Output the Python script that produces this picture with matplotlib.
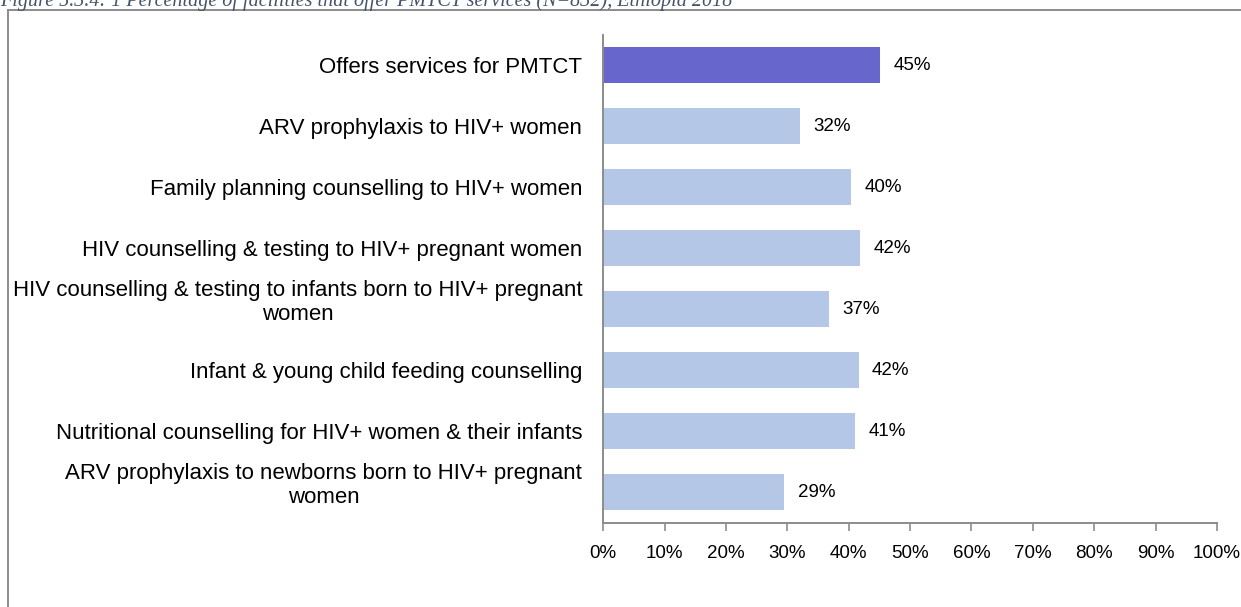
import matplotlib
matplotlib.use("Agg")
import matplotlib.pyplot as plt
import matplotlib.transforms as mtransforms
from matplotlib.lines import Line2D
from matplotlib.ticker import PercentFormatter

# data (percent)
categories = [
    "Offers services for PMTCT",
    "ARV prophylaxis to HIV+ women",
    "Family planning counselling to HIV+ women",
    "HIV counselling & testing to HIV+ pregnant women",
    "HIV counselling & testing to infants born to HIV+ pregnant\nwomen",
    "Infant & young child feeding counselling",
    "Nutritional counselling for HIV+ women & their infants",
    "ARV prophylaxis to newborns born to HIV+ pregnant\nwomen",
]
values = [45.1, 32.0, 40.4, 41.9, 36.8, 41.6, 41.0, 29.5]
value_labels = ["45%", "32%", "40%", "42%", "37%", "42%", "41%", "29%"]
x_ticks = [0, 10, 20, 30, 40, 50, 60, 70, 80, 90, 100]

title = "Figure 5.3.4: 1 Percentage of facilities that offer PMTCT services (N=832), Ethiopia 2018"

plt.rcParams["font.family"] = ["Liberation Sans", "DejaVu Sans"]

fig = plt.figure(figsize=(12.41, 6.07), dpi=100)
ax = fig.add_axes([0.486, 0.139, 0.4947, 0.804])

colors = ["#6666CC"] + ["#B4C7E7"] * (len(values) - 1)
ypos = list(range(len(values)))
ax.barh(ypos, values, height=0.6, color=colors)
ax.set_ylim(len(values) - 0.5, -0.5)
ax.set_xlim(0, 100)

for y, v, lab in zip(ypos, values, value_labels):
    ax.text(v + 2.2, y, lab, va="center", ha="left", fontsize=13.5, color="#000000")

ax.set_yticks(ypos)
ax.set_yticklabels(categories, fontsize=16, multialignment="center")
ax.tick_params(axis="y", length=0, pad=15)

# two-line labels sit a bit higher than the bar centre in the original
shift_up = mtransforms.ScaledTranslation(0, 8 / 72, fig.dpi_scale_trans)
for lab in ax.get_yticklabels():
    if "\n" in lab.get_text():
        lab.set_transform(lab.get_transform() + shift_up)

ax.set_xticks(x_ticks)
ax.xaxis.set_major_formatter(PercentFormatter(decimals=0))
ax.tick_params(axis="x", labelsize=13.5, length=6, width=1.2, color="#8C8C8C", pad=10)

for side in ["top", "right"]:
    ax.spines[side].set_visible(False)
for side in ["left", "bottom"]:
    ax.spines[side].set_color("#8C8C8C")
    ax.spines[side].set_linewidth(1.4)

# outer frame (cut by the page edge in the reference)
fx = 8 / 1241
fy = 1 - 10 / 607
fig.add_artist(Line2D([fx, 1.0], [fy, fy], color="#8C8C8C", lw=1.4))
fig.add_artist(Line2D([fx, fx], [fy, 0.0], color="#8C8C8C", lw=1.4))

# caption, mostly above the visible area
fig.text(0.0, 1 - 6 / 607, title, fontsize=14.5, style="italic",
         family=["Liberation Serif", "DejaVu Serif"], color="#44546A",
         ha="left", va="baseline")

fig.savefig("out.png", dpi=100)
